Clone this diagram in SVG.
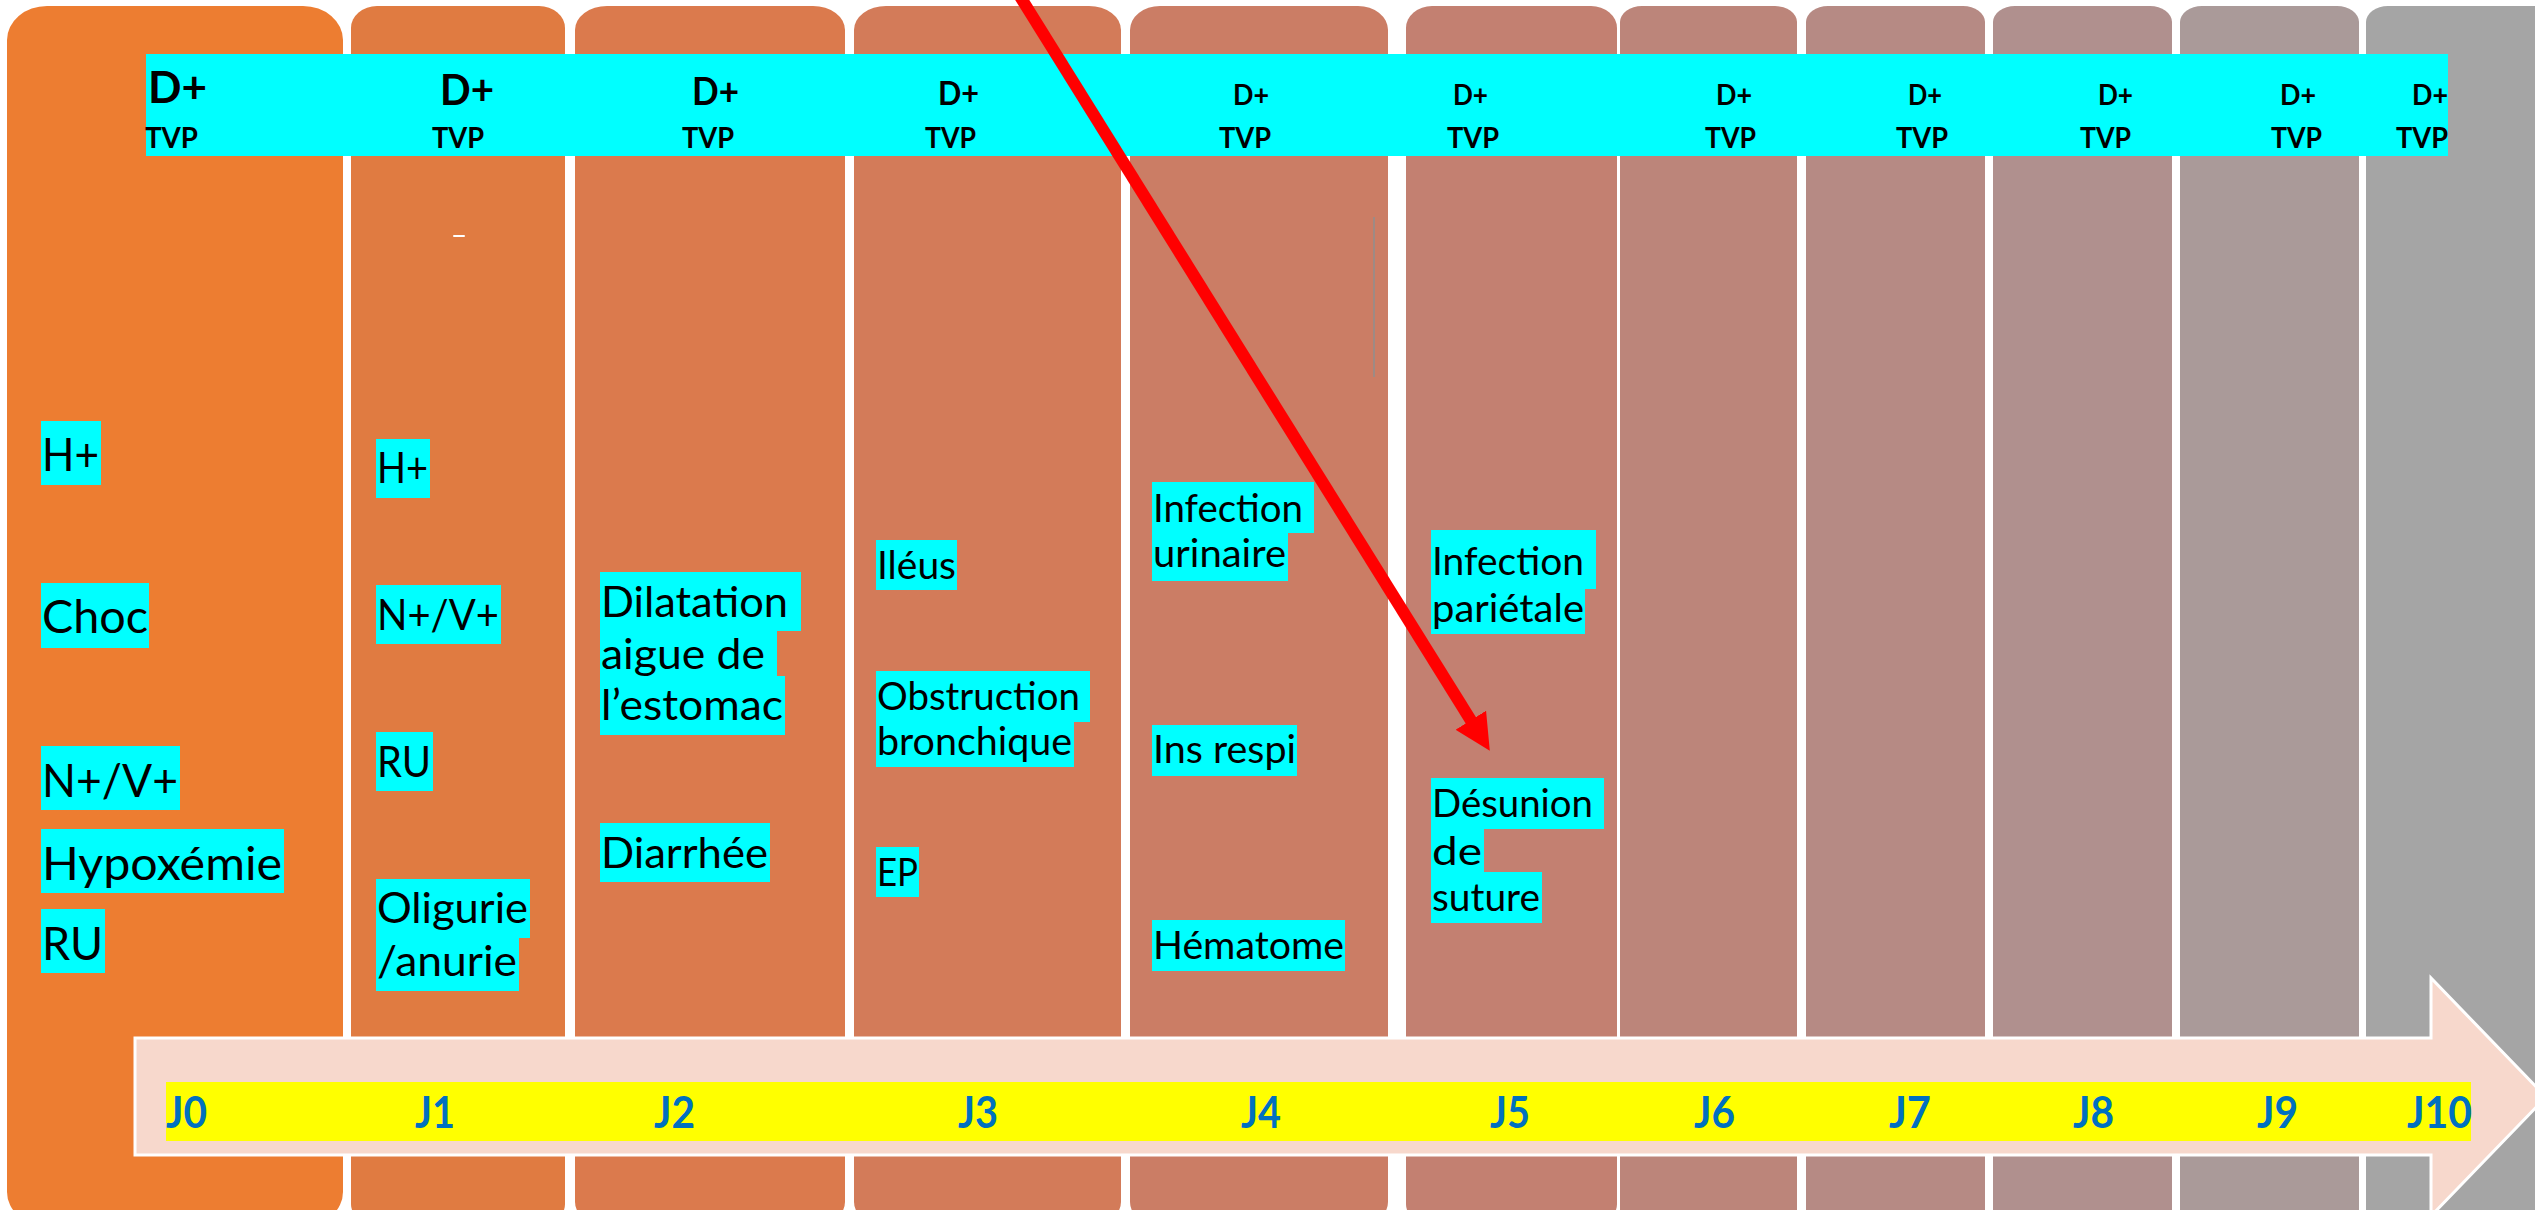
<svg xmlns="http://www.w3.org/2000/svg" width="2535" height="1210" viewBox="0 0 2535 1210">
<style>
text{font-family:"Lato","Liberation Sans",sans-serif;fill:#000}
.hl{fill:#00FFFF}
.l0{font-size:46px}
.l1{font-size:42px}
.l3{font-size:38px}
.dp{font-weight:700}
.tvp{font-weight:700;font-size:28px}
.j{font-weight:700;font-size:43px;fill:#0070C0}
</style>
<defs>
<marker id="redHead" markerUnits="userSpaceOnUse" viewBox="0 0 36 36" refX="8" refY="18" markerWidth="36" markerHeight="36" orient="auto">
<path d="M0,0 L36,18 L0,36 Z" fill="#FF0000"/>
</marker>
</defs>
<rect width="2535" height="1210" fill="#FFFFFF"/>
<g id="columns">
<rect x="7" y="6" width="336" height="1220" rx="40" ry="34" fill="#ED7D31"/>
<rect x="351" y="6" width="214" height="1220" rx="26" ry="22" fill="#E07B41"/>
<rect x="575" y="6" width="270" height="1220" rx="32" ry="24" fill="#DB7A4D"/>
<rect x="854" y="6" width="267" height="1220" rx="32" ry="24" fill="#D37B59"/>
<rect x="1130" y="6" width="258" height="1220" rx="30" ry="24" fill="#CB7D65"/>
<rect x="1406" y="6" width="211" height="1220" rx="26" ry="22" fill="#C38071"/>
<rect x="1620" y="6" width="177" height="1220" rx="22" ry="16" fill="#BC857A"/>
<rect x="1806" y="6" width="179" height="1220" rx="22" ry="16" fill="#B68A84"/>
<rect x="1993" y="6" width="179" height="1220" rx="22" ry="16" fill="#B0908E"/>
<rect x="2180" y="6" width="179" height="1220" rx="22" ry="16" fill="#AA9A99"/>
<rect x="2366" y="6" width="190" height="1220" rx="22" ry="16" fill="#A5A5A5"/>
<line x1="1374" y1="217" x2="1374" y2="377" stroke="#9E8A84" stroke-width="2"/>
<rect x="453" y="235" width="12" height="2" rx="1" fill="#FFFFFF"/>
</g>
<g id="header">
<rect class="hl" x="146" y="54" width="2302" height="102"/>
<text class="dp" x="148" y="103" font-size="43" textLength="59" lengthAdjust="spacingAndGlyphs">D+</text>
<text class="dp" x="440" y="105" font-size="42" textLength="54" lengthAdjust="spacingAndGlyphs">D+</text>
<text class="dp" x="692" y="105" font-size="38" textLength="47" lengthAdjust="spacingAndGlyphs">D+</text>
<text class="dp" x="938" y="105" font-size="32" textLength="41" lengthAdjust="spacingAndGlyphs">D+</text>
<text class="dp" x="1233" y="105" font-size="28" textLength="36" lengthAdjust="spacingAndGlyphs">D+</text>
<text class="dp" x="1453" y="105" font-size="28" textLength="35" lengthAdjust="spacingAndGlyphs">D+</text>
<text class="dp" x="1716" y="105" font-size="28" textLength="36" lengthAdjust="spacingAndGlyphs">D+</text>
<text class="dp" x="1908" y="105" font-size="28" textLength="34" lengthAdjust="spacingAndGlyphs">D+</text>
<text class="dp" x="2098" y="105" font-size="28" textLength="35" lengthAdjust="spacingAndGlyphs">D+</text>
<text class="dp" x="2280" y="105" font-size="28" textLength="36" lengthAdjust="spacingAndGlyphs">D+</text>
<text class="dp" x="2412" y="105" font-size="28" textLength="36" lengthAdjust="spacingAndGlyphs">D+</text>
<text class="tvp" x="145" y="148" textLength="53" lengthAdjust="spacingAndGlyphs">TVP</text>
<text class="tvp" x="432" y="148" textLength="52" lengthAdjust="spacingAndGlyphs">TVP</text>
<text class="tvp" x="682" y="148" textLength="52" lengthAdjust="spacingAndGlyphs">TVP</text>
<text class="tvp" x="925" y="148" textLength="51" lengthAdjust="spacingAndGlyphs">TVP</text>
<text class="tvp" x="1219" y="148" textLength="52" lengthAdjust="spacingAndGlyphs">TVP</text>
<text class="tvp" x="1447" y="148" textLength="52" lengthAdjust="spacingAndGlyphs">TVP</text>
<text class="tvp" x="1705" y="148" textLength="51" lengthAdjust="spacingAndGlyphs">TVP</text>
<text class="tvp" x="1896" y="148" textLength="52" lengthAdjust="spacingAndGlyphs">TVP</text>
<text class="tvp" x="2080" y="148" textLength="51" lengthAdjust="spacingAndGlyphs">TVP</text>
<text class="tvp" x="2271" y="148" textLength="51" lengthAdjust="spacingAndGlyphs">TVP</text>
<text class="tvp" x="2396" y="148" textLength="52" lengthAdjust="spacingAndGlyphs">TVP</text>
</g>
<g id="day-J0">
<rect class="hl" x="41" y="421" width="60" height="64"/>
<rect class="hl" x="41" y="583" width="108" height="65"/>
<rect class="hl" x="41" y="746" width="139" height="64"/>
<rect class="hl" x="41" y="829" width="243" height="64"/>
<rect class="hl" x="41" y="909" width="64" height="64"/>
<text class="l0" x="42" y="471" textLength="57" lengthAdjust="spacingAndGlyphs">H+</text>
<text class="l0" x="42" y="633" textLength="106" lengthAdjust="spacingAndGlyphs">Choc</text>
<text class="l0" x="42" y="797" textLength="136" lengthAdjust="spacingAndGlyphs">N+/V+</text>
<text class="l0" x="42" y="880" textLength="240" lengthAdjust="spacingAndGlyphs">Hypoxémie</text>
<text class="l0" x="42" y="960" textLength="61" lengthAdjust="spacingAndGlyphs">RU</text>
</g>
<g id="day-J1">
<rect class="hl" x="376" y="439" width="54" height="59"/>
<rect class="hl" x="376" y="585" width="125" height="59"/>
<rect class="hl" x="376" y="732" width="57" height="59"/>
<rect class="hl" x="376" y="879" width="154" height="59"/>
<rect class="hl" x="376" y="932" width="143" height="59"/>
<text class="l1" x="377" y="483" textLength="51" lengthAdjust="spacingAndGlyphs">H+</text>
<text class="l1" x="377" y="630" textLength="122" lengthAdjust="spacingAndGlyphs">N+/V+</text>
<text class="l1" x="377" y="777" textLength="54" lengthAdjust="spacingAndGlyphs">RU</text>
<text class="l1" x="377" y="923" textLength="151" lengthAdjust="spacingAndGlyphs">Oligurie</text>
<text class="l1" x="377" y="976" textLength="140" lengthAdjust="spacingAndGlyphs">/anurie</text>
</g>
<g id="day-J2">
<rect class="hl" x="600" y="572" width="201" height="59"/>
<rect class="hl" x="600" y="624" width="177" height="59"/>
<rect class="hl" x="600" y="676" width="185" height="59"/>
<rect class="hl" x="600" y="823" width="170" height="59"/>
<text class="l1" x="601" y="617" textLength="187" lengthAdjust="spacingAndGlyphs">Dilatation</text>
<text class="l1" x="601" y="669" textLength="164" lengthAdjust="spacingAndGlyphs">aigue de</text>
<text class="l1" x="601" y="720" textLength="182" lengthAdjust="spacingAndGlyphs">l’estomac</text>
<text class="l1" x="601" y="868" textLength="167" lengthAdjust="spacingAndGlyphs">Diarrhée</text>
</g>
<g id="day-J3">
<rect class="hl" x="876" y="540" width="81" height="50"/>
<rect class="hl" x="876" y="671" width="214" height="51"/>
<rect class="hl" x="876" y="716" width="198" height="51"/>
<rect class="hl" x="876" y="847" width="43" height="50"/>
<text class="l3" x="877" y="579" textLength="79" lengthAdjust="spacingAndGlyphs">Iléus</text>
<text class="l3" x="877" y="710" textLength="203" lengthAdjust="spacingAndGlyphs">Obstruction</text>
<text class="l3" x="877" y="755" textLength="195" lengthAdjust="spacingAndGlyphs">bronchique</text>
<text class="l3" x="877" y="886" textLength="41" lengthAdjust="spacingAndGlyphs">EP</text>
</g>
<g id="day-J4">
<rect class="hl" x="1152" y="482" width="162" height="51"/>
<rect class="hl" x="1152" y="528" width="136" height="53"/>
<rect class="hl" x="1152" y="725" width="145" height="51"/>
<rect class="hl" x="1152" y="920" width="193" height="51"/>
<text class="l3" x="1153" y="522" textLength="150" lengthAdjust="spacingAndGlyphs">Infection</text>
<text class="l3" x="1153" y="567" textLength="133" lengthAdjust="spacingAndGlyphs">urinaire</text>
<text class="l3" x="1153" y="763" textLength="143" lengthAdjust="spacingAndGlyphs">Ins respi</text>
<text class="l3" x="1153" y="959" textLength="191" lengthAdjust="spacingAndGlyphs">Hématome</text>
</g>
<g id="day-J5">
<rect class="hl" x="1431" y="530" width="165" height="59"/>
<rect class="hl" x="1431" y="583" width="154" height="51"/>
<rect class="hl" x="1431" y="778" width="173" height="51"/>
<rect class="hl" x="1431" y="823" width="53" height="51"/>
<rect class="hl" x="1431" y="872" width="111" height="51"/>
<text class="l3" x="1432" y="575" textLength="152" lengthAdjust="spacingAndGlyphs">Infection</text>
<text class="l3" x="1432" y="622" textLength="152" lengthAdjust="spacingAndGlyphs">pariétale</text>
<text class="l3" x="1432" y="817" textLength="161" lengthAdjust="spacingAndGlyphs">Désunion</text>
<text class="l3" x="1432" y="865" textLength="50" lengthAdjust="spacingAndGlyphs">de</text>
<text class="l3" x="1432" y="911" textLength="108" lengthAdjust="spacingAndGlyphs">suture</text>
</g>
<g id="timeline">
<polygon points="135,1038 2431,1038 2431,978 2546,1097 2431,1216 2431,1155 135,1155" fill="#F7D8CC" stroke="#FFFFFF" stroke-width="3"/>
<rect x="166" y="1082" width="2305" height="59" fill="#FFFF00"/>
<text class="j" x="166" y="1128" textLength="41" lengthAdjust="spacingAndGlyphs">J0</text>
<text class="j" x="415" y="1128" textLength="40" lengthAdjust="spacingAndGlyphs">J1</text>
<text class="j" x="654" y="1128" textLength="41" lengthAdjust="spacingAndGlyphs">J2</text>
<text class="j" x="958" y="1128" textLength="40" lengthAdjust="spacingAndGlyphs">J3</text>
<text class="j" x="1241" y="1128" textLength="40" lengthAdjust="spacingAndGlyphs">J4</text>
<text class="j" x="1490" y="1128" textLength="40" lengthAdjust="spacingAndGlyphs">J5</text>
<text class="j" x="1694" y="1128" textLength="41" lengthAdjust="spacingAndGlyphs">J6</text>
<text class="j" x="1889" y="1128" textLength="42" lengthAdjust="spacingAndGlyphs">J7</text>
<text class="j" x="2073" y="1128" textLength="41" lengthAdjust="spacingAndGlyphs">J8</text>
<text class="j" x="2257" y="1128" textLength="41" lengthAdjust="spacingAndGlyphs">J9</text>
<text class="j" x="2407" y="1128" textLength="65" lengthAdjust="spacingAndGlyphs">J10</text>
</g>
<g id="connectors">
<line x1="1016" y1="-10" x2="1475" y2="727" stroke="#FF0000" stroke-width="12" marker-end="url(#redHead)"/>
</g>
</svg>
